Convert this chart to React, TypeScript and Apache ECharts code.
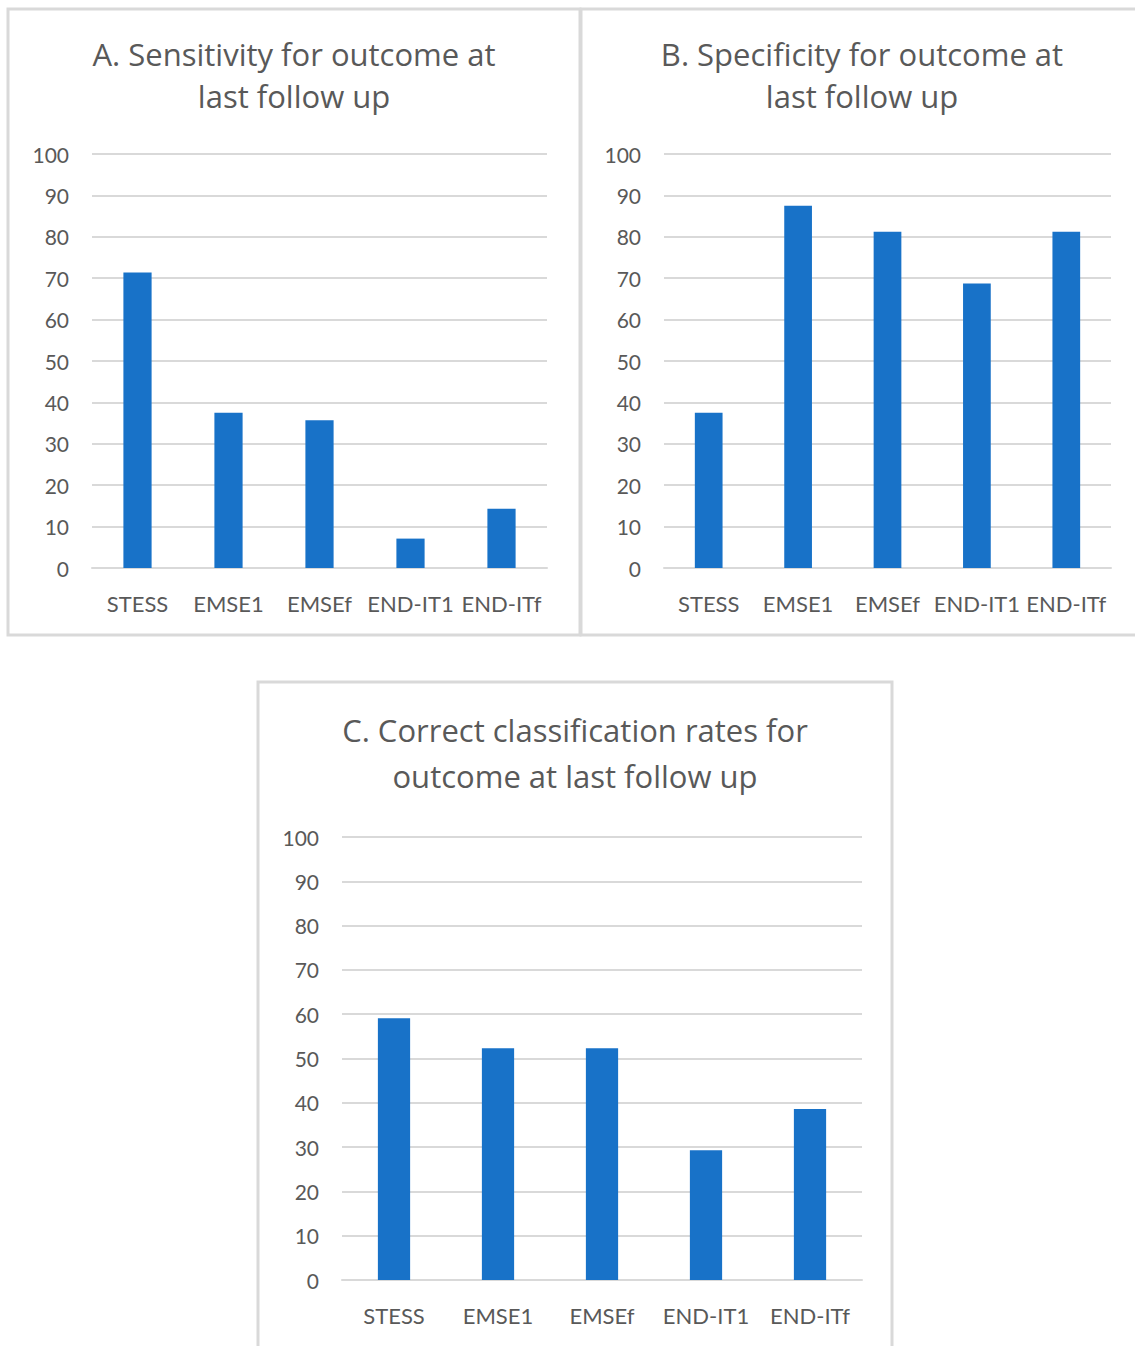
import React, { useEffect, useRef } from "react";
import * as echarts from "echarts";

// Scores (%) for each prognostic scale at last follow up
const categories = ["STESS", "EMSE1", "EMSEf", "END-IT1", "END-ITf"];
const sensitivity = [71.4, 37.5, 35.7, 7.1, 14.3];
const specificity = [37.5, 87.5, 81.25, 68.75, 81.25];
const correctClassification = [59.1, 52.3, 52.3, 29.3, 38.6];

const titleA = "A. Sensitivity for outcome at\nlast follow up";
const titleB = "B. Specificity for outcome at\nlast follow up";
const titleC = "C. Correct classification rates for\noutcome at last follow up";

const FONT = "Lato, 'Noto Sans', sans-serif";
const TITLE_FONT = "'Open Sans', 'Noto Sans', sans-serif";
const TEXT = "#595959";
const GRID = "#d9d9d9";
const BAR = "#1872c8";

function panelAxes(gridIndex: number) {
  const x = {
    type: "category" as const,
    gridIndex,
    data: categories,
    axisLine: { show: true, lineStyle: { color: GRID, width: 2 } },
    axisTick: { show: false },
    axisLabel: {
      interval: 0,
      color: TEXT,
      fontFamily: FONT,
      fontSize: 22,
      margin: 24,
    },
  };
  const y = {
    type: "value" as const,
    gridIndex,
    min: 0,
    max: 100,
    interval: 10,
    axisLine: { show: false },
    axisTick: { show: false },
    splitLine: { lineStyle: { color: GRID, width: 2 } },
    axisLabel: { color: TEXT, fontFamily: FONT, fontSize: 21, margin: 23 },
  };
  return { x, y };
}

function barSeries(index: number, values: number[]) {
  return {
    type: "bar" as const,
    xAxisIndex: index,
    yAxisIndex: index,
    data: values,
    barWidth: "31%",
    itemStyle: { color: BAR },
  };
}

export default function App() {
  const ref = useRef<HTMLDivElement>(null);

  useEffect(() => {
    if (!ref.current) return;
    const chart = echarts.init(ref.current, null, { renderer: "svg" });
    const a = panelAxes(0);
    const b = panelAxes(1);
    const c = panelAxes(2);

    const titleStyle = (size: number, lh: number) => ({
      color: TEXT,
      fontFamily: TITLE_FONT,
      fontWeight: "normal" as const,
      fontSize: size,
      lineHeight: lh,
    });

    chart.setOption({
      animation: false,
      backgroundColor: "#ffffff",
      title: [
        { text: titleA, left: 294, top: 33, padding: 0, textAlign: "center", textStyle: titleStyle(31, 42) },
        { text: titleB, left: 862, top: 33, padding: 0, textAlign: "center", textStyle: titleStyle(31, 42) },
        { text: titleC, left: 575, top: 707, padding: 0, textAlign: "center", textStyle: titleStyle(31, 46) },
      ],
      grid: [
        { left: 92, top: 154, width: 455, height: 414 },
        { left: 664, top: 154, width: 447, height: 414 },
        { left: 342, top: 837, width: 520, height: 443 },
      ],
      xAxis: [a.x, b.x, c.x],
      yAxis: [a.y, b.y, c.y],
      series: [
        barSeries(0, sensitivity),
        barSeries(1, specificity),
        barSeries(2, correctClassification),
      ],
      graphic: [
        { type: "rect", shape: { x: 8, y: 9, width: 572, height: 626 }, style: { fill: "none", stroke: GRID, lineWidth: 3 }, silent: true },
        { type: "rect", shape: { x: 581, y: 9, width: 600, height: 626 }, style: { fill: "none", stroke: GRID, lineWidth: 3 }, silent: true },
        { type: "rect", shape: { x: 258, y: 682, width: 634, height: 720 }, style: { fill: "none", stroke: GRID, lineWidth: 3 }, silent: true },
      ],
    });
    return () => chart.dispose();
  }, []);

  return (
    <div
      ref={ref}
      style={{ position: "absolute", left: 0, top: 0, width: 1135, height: 1346 }}
    />
  );
}
